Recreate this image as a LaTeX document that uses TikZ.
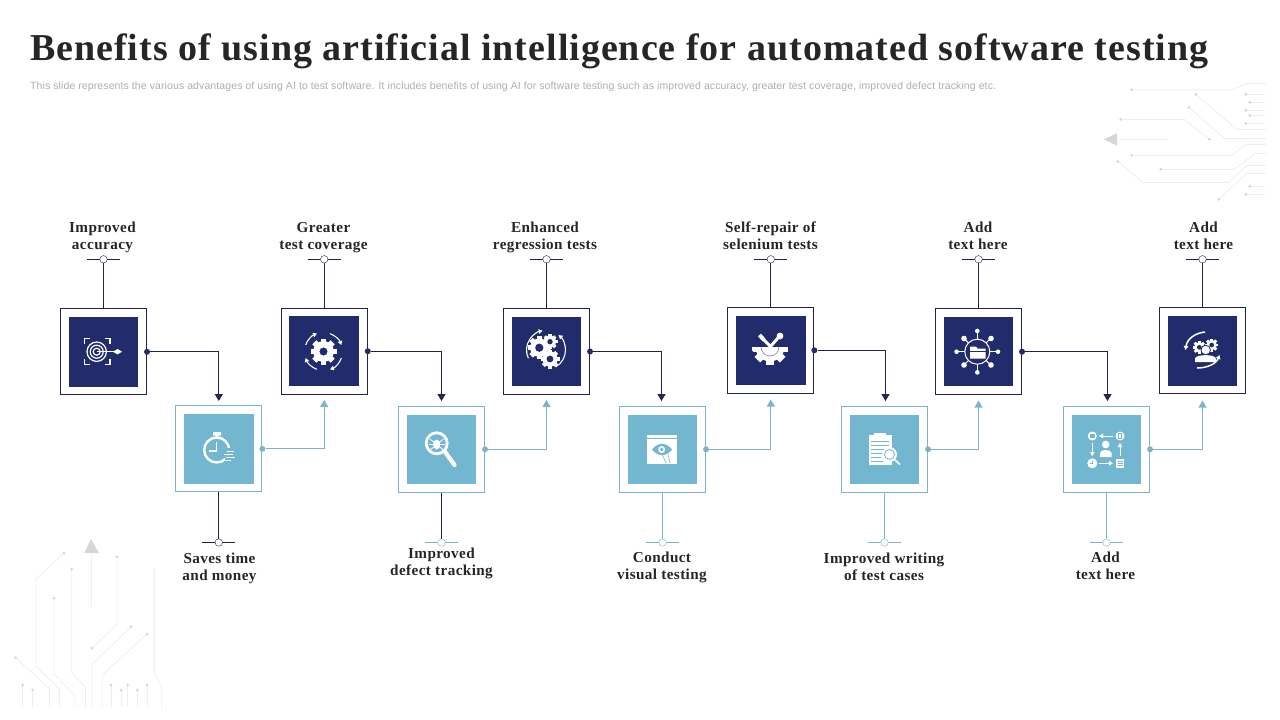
\documentclass[tikz,border=0pt]{standalone}
\usepackage{fontspec}
\setmainfont{Liberation Serif}
\setsansfont{Liberation Sans}
\newfontfamily\titlefont[LetterSpace=2.6]{Liberation Serif}
\newfontfamily\capfont[LetterSpace=2.6]{Liberation Serif}
\newfontfamily\subfont[LetterSpace=1]{Liberation Sans}
\usetikzlibrary{arrows.meta,positioning,calc}

\definecolor{navy}{HTML}{222B6B}
\definecolor{teal}{HTML}{72B7CF}
\definecolor{edgeteal}{HTML}{7FB4C8}
\definecolor{edgedark}{HTML}{20243F}
\definecolor{circuit}{HTML}{EEEEEE}
\definecolor{circuitdot}{HTML}{D6D6D6}

\tikzset{
	outerdark/.style={draw=edgedark, fill=white, line width=1.1pt, minimum size=86pt, inner sep=0pt},
	outerteal/.style={draw=edgeteal, fill=white, line width=1.1pt, minimum size=86pt, inner sep=0pt},
	innerdark/.style={fill=navy, minimum size=69.5pt, inner sep=0pt},
	innerteal/.style={fill=teal, minimum size=69.5pt, inner sep=0pt},
	dotdark/.style={circle, fill=navy, minimum size=6pt, inner sep=0pt},
	dotteal/.style={circle, fill=edgeteal, minimum size=6pt, inner sep=0pt},
	linkdark/.style={draw=edgedark, line width=1.1pt, -{Triangle[width=8pt,length=7pt,fill=navy]}},
	linkteal/.style={draw=edgeteal, line width=1.1pt, -{Triangle[width=8pt,length=7pt,fill=edgeteal]}},
	stemdark/.style={draw=edgedark, line width=1pt},
	stemteal/.style={draw=edgeteal, line width=1pt},
	pindark/.style={circle, draw=edgedark, fill=white, minimum size=7.5pt, inner sep=0pt},
	pinteal/.style={circle, draw=edgeteal, fill=white, minimum size=7.5pt, inner sep=0pt},
	caption/.style={align=center, text=black!85, inner sep=0pt, font=\fontsize{15.2}{17}\capfont\bfseries},
	trace/.style={draw=circuit, line width=.9pt},
	icon/.style={draw=white, line width=1.4pt},
	iconarrow/.style={draw=white, line width=1.1pt, -{Triangle[width=4.5pt,length=4pt]}},
}

% cog wheel: x, y, radius, hole colour
\newcommand{\cogwheel}[4]{
	\fill[white] (#1,#2) circle (0.8*#3);
	\foreach \a in {0,45,...,315}
		\fill[white, shift={(#1,#2)}, rotate=\a] (-0.22*#3,0) rectangle (0.22*#3,#3);
	\fill[#4] (#1,#2) circle (0.36*#3);
}

\begin{document}
\begin{tikzpicture}[x=1pt,y=-1pt]
	\useasboundingbox (0,0) rectangle (1280,720);

	% Title
	\node[anchor=west, inner sep=0pt, text=black!85, font=\fontsize{38}{40}\titlefont\bfseries] (title) at (30,51) {Benefits of using artificial intelligence for automated software testing};
	\node[anchor=west, inner sep=0pt, text=black!32, font=\fontsize{10.5}{12}\subfont] (subtitle) at (30,87) {This slide represents the various advantages of using AI to test software. It includes benefits of using AI for software testing such as improved accuracy, greater test coverage, improved defect tracking etc.};

	% Circuit top right
	\draw[trace] (1131.7,89.7) -- (1233,89.7) -- (1246.7,83.3) -- (1265.7,83.3);
	\draw[trace] (1245.7,94.3) -- (1265,94.3);
	\draw[trace] (1249.7,102.3) -- (1265,102.3);
	\draw[trace] (1245.7,110.3) -- (1265,110.3);
	\draw[trace] (1249.7,115.3) -- (1265,115.3);
	\draw[trace] (1245.7,123.3) -- (1265,123.3);
	\draw[trace] (1195.7,94.3) -- (1236.7,129.3) -- (1265.7,129.3);
	\draw[trace] (1188.7,107.3) -- (1224.3,138.3) -- (1265.7,138.3);
	\draw[trace] (1120.7,119.3) -- (1184.3,119.3) -- (1209.3,139.3);
	\draw[trace] (1120,139.3) -- (1167.7,139.3);
	\draw[trace] (1131.7,155.3) -- (1232.3,155.3) -- (1245.7,144.3) -- (1265.7,144.3);
	\draw[trace] (1160.7,169.3) -- (1234.3,169.3) -- (1255.7,153.3) -- (1265.7,153.3);
	\draw[trace] (1117.7,161.3) -- (1142.7,182.3) -- (1228.3,182.3) -- (1246.7,165.3) -- (1265.7,165.3);
	\draw[trace] (1218.7,199.3) -- (1246.7,173.3) -- (1265.7,173.3);
	\draw[trace] (1249.7,186.3) -- (1265,186.3);
	\draw[trace] (1245.7,194.3) -- (1265,194.3);
	\fill[circuitdot] (1104,139.3) -- (1117,133.3) -- (1117,145.7) -- cycle;
	\fill[circuitdot] (1131.7,89.7) circle (1.5) (1245.7,94.3) circle (1.5) (1249.7,102.3) circle (1.5)
		(1245.7,110.3) circle (1.5) (1249.7,115.3) circle (1.5) (1245.7,123.3) circle (1.5)
		(1195.7,94.3) circle (1.5) (1188.7,107.3) circle (1.5) (1120.7,119.3) circle (1.5)
		(1209.3,139.3) circle (1.5) (1131.7,155.3) circle (1.5) (1160.7,169.3) circle (1.5)
		(1117.7,161.3) circle (1.5) (1218.7,199.3) circle (1.5) (1249.7,186.3) circle (1.5) (1245.7,194.3) circle (1.5);

	% Circuit bottom left
	\draw[trace] (91,555) -- (91,607.3);
	\draw[trace] (64,553) -- (36,579) -- (36,666) -- (59.3,689.3) -- (59.3,706.7);
	\draw[trace] (71.7,569) -- (71.7,672.3) -- (85.3,686.7) -- (85.3,706.7);
	\draw[trace] (54,598) -- (54,674) -- (74.7,695) -- (74.7,706.7);
	\draw[trace] (117,556.7) -- (117,624.3) -- (92,648);
	\draw[trace] (131,626.7) -- (92,664.3) -- (92,706.7);
	\draw[trace] (147,634) -- (102,675.3) -- (102,706.7);
	\draw[trace] (154.3,569) -- (154.3,673.3) -- (161.7,686.7) -- (161.7,710);
	\draw[trace] (15.7,657.7) -- (49.3,688.3) -- (49.3,706.7);
	\draw[trace] (22.7,685) -- (22.7,706.7);
	\draw[trace] (32.7,690) -- (32.7,706.7);
	\draw[trace] (111,685) -- (111,706.7);
	\draw[trace] (121,690) -- (121,706.7);
	\draw[trace] (127.7,685) -- (127.7,706.7);
	\draw[trace] (137.3,690) -- (137.3,706.7);
	\draw[trace] (147,685) -- (147,706.7);
	\fill[circuitdot] (84.3,553) -- (91,539) -- (99,553) -- cycle;
	\fill[circuitdot] (64,553) circle (1.5) (71.7,569) circle (1.5) (54,598) circle (1.5)
		(117,556.7) circle (1.5) (92,648) circle (1.5) (131,626.7) circle (1.5) (147,634) circle (1.5)
		(15.7,657.7) circle (1.5) (22.7,685) circle (1.5) (32.7,690) circle (1.5) (111,685) circle (1.5)
		(121,690) circle (1.5) (127.7,685) circle (1.5) (137.3,690) circle (1.5) (147,685) circle (1.5);

	% Boxes
	\node[outerdark] (b1) at (103.5,351.8) {};
	\node[outerteal] (l1) at (218.8,448.8) {};
	\node[outerdark] (b2) at (324.2,351.2) {};
	\node[outerteal] (l2) at (441.5,449.3) {};
	\node[outerdark] (b3) at (546.5,351.5) {};
	\node[outerteal] (l3) at (662.5,449.3) {};
	\node[outerdark] (b4) at (770.8,350.3) {};
	\node[outerteal] (l4) at (884.5,449.3) {};
	\node[outerdark] (b5) at (978.5,351.7) {};
	\node[outerteal] (l5) at (1106.5,449.3) {};
	\node[outerdark] (b6) at (1202.5,350.8) {};
	\node[innerdark] at (b1) {};
	\node[innerteal] at (l1) {};
	\node[innerdark] at (b2) {};
	\node[innerteal] at (l2) {};
	\node[innerdark] at (b3) {};
	\node[innerteal] at (l3) {};
	\node[innerdark] at (b4) {};
	\node[innerteal] at (l4) {};
	\node[innerdark] at (b5) {};
	\node[innerteal] at (l5) {};
	\node[innerdark] at (b6) {};

	% Links between the boxes
	\node[dotdark] (db1) at (b1.east) {};
	\node[dotteal] (dl1) at (l1.east) {};
	\node[dotdark] (db2) at (b2.east) {};
	\node[dotteal] (dl2) at (l2.east) {};
	\node[dotdark] (db3) at (b3.east) {};
	\node[dotteal] (dl3) at (l3.east) {};
	\node[dotdark] (db4) at (b4.east) {};
	\node[dotteal] (dl4) at (l4.east) {};
	\node[dotdark] (db5) at (b5.east) {};
	\node[dotteal] (dl5) at (l5.east) {};
	\coordinate (e1) at (218.8,401);
	\coordinate (e2) at (324.2,400);
	\coordinate (e3) at (441.5,401);
	\coordinate (e4) at (546.5,400);
	\coordinate (e5) at (661.5,401);
	\coordinate (e6) at (770.8,399.5);
	\coordinate (e7) at (885.5,401);
	\coordinate (e8) at (978.5,400.5);
	\coordinate (e9) at (1107.5,401);
	\coordinate (e10) at (1202.5,400.5);
	\draw[linkdark] (db1) -| (e1);
	\draw[linkteal] (dl1) -| (e2);
	\draw[linkdark] (db2) -| (e3);
	\draw[linkteal] (dl2) -| (e4);
	\draw[linkdark] (db3) -| (e5);
	\draw[linkteal] (dl3) -| (e6);
	\draw[linkdark] (db4) -| (e7);
	\draw[linkteal] (dl4) -| (e8);
	\draw[linkdark] (db5) -| (e9);
	\draw[linkteal] (dl5) -| (e10);

	% Pins above
	\node[pindark] (p1) at (103.5,259.3) {};
	\node[pindark] (p3) at (324.2,259.3) {};
	\node[pindark] (p5) at (546.5,259.3) {};
	\node[pindark] (p7) at (770.8,259.3) {};
	\node[pindark] (p9) at (978.5,259.3) {};
	\node[pindark] (p11) at (1202.5,259.3) {};
	\draw[stemdark] (b1) -- (p1) (p1.west) -- ++(-12.5,0) (p1.east) -- ++(12.5,0);
	\draw[stemdark] (b2) -- (p3) (p3.west) -- ++(-12.5,0) (p3.east) -- ++(12.5,0);
	\draw[stemdark] (b3) -- (p5) (p5.west) -- ++(-12.5,0) (p5.east) -- ++(12.5,0);
	\draw[stemdark] (b4) -- (p7) (p7.west) -- ++(-12.5,0) (p7.east) -- ++(12.5,0);
	\draw[stemdark] (b5) -- (p9) (p9.west) -- ++(-12.5,0) (p9.east) -- ++(12.5,0);
	\draw[stemdark] (b6) -- (p11) (p11.west) -- ++(-12.5,0) (p11.east) -- ++(12.5,0);

	% Pins below
	\node[pindark] (p2) at (218.8,542.5) {};
	\node[pinteal] (p4) at (441.5,542.5) {};
	\node[pinteal] (p6) at (662.5,542.5) {};
	\node[pinteal] (p8) at (884.5,542.5) {};
	\node[pinteal] (p10) at (1106.5,542.5) {};
	\draw[stemdark] (l1) -- (p2) (p2.west) -- ++(-12.5,0) (p2.east) -- ++(12.5,0);
	\draw[stemdark] (l2) -- (p4);
	\draw[stemteal] (p4.west) -- ++(-12.5,0) (p4.east) -- ++(12.5,0);
	\draw[stemteal] (l3) -- (p6) (p6.west) -- ++(-12.5,0) (p6.east) -- ++(12.5,0);
	\draw[stemteal] (l4) -- (p8) (p8.west) -- ++(-12.5,0) (p8.east) -- ++(12.5,0);
	\draw[stemteal] (l5) -- (p10) (p10.west) -- ++(-12.5,0) (p10.east) -- ++(12.5,0);

	% Captions
	\node[caption] (t1) at (102.5,238) {\strut Improved\\\strut accuracy};
	\node[caption] (t2) at (219.5,569) {\strut Saves time\\\strut and money};
	\node[caption] (t3) at (323.5,238) {\strut Greater\\\strut test coverage};
	\node[caption] (t4) at (441.5,564) {\strut Improved\\\strut defect tracking};
	\node[caption] (t5) at (545,238) {\strut Enhanced\\\strut regression tests};
	\node[caption] (t6) at (662,568) {\strut Conduct\\\strut visual testing};
	\node[caption] (t7) at (770.5,238) {\strut Self-repair of\\\strut selenium tests};
	\node[caption] (t8) at (884,569) {\strut Improved writing\\\strut of test cases};
	\node[caption] (t9) at (978,238) {\strut Add\\\strut text here};
	\node[caption] (t10) at (1105.5,568) {\strut Add\\\strut text here};
	\node[caption] (t11) at (1203.5,238) {\strut Add\\\strut text here};

	% Icon target
	\draw[icon, line width=1.2pt] (96.7,351.7) circle (3.5) (96.7,351.7) circle (6.5) (96.7,351.7) circle (9.7);
	\draw[icon, line width=1.7pt] (84.5,344) -- (84.5,338.5) -- (90,338.5) (104.5,338.5) -- (110,338.5) -- (110,344)
		(84.5,359) -- (84.5,364.5) -- (90,364.5) (104.5,364.5) -- (110,364.5) -- (110,359);
	\draw[icon] (96.7,351.7) -- (117,351.7);
	\fill[white] (113,351.7) -- (117.5,349) -- (122,351.7) -- (117.5,354.4) -- cycle;

	% Icon gear with arrows
	\cogwheel{323.5}{351.5}{13}{navy}
	\draw[white, line width=1pt] (323.5,351.5) circle (4.7);
	\draw[iconarrow] (323.5,351.5) ++(-70:19) arc[start angle=-70, end angle=-20, radius=19];
	\draw[iconarrow] (323.5,351.5) ++(20:19) arc[start angle=20, end angle=70, radius=19];
	\draw[iconarrow] (323.5,351.5) ++(110:19) arc[start angle=110, end angle=160, radius=19];
	\draw[iconarrow] (323.5,351.5) ++(200:19) arc[start angle=200, end angle=250, radius=19];

	% Icon stopwatch
	\draw[icon, line width=2.4pt] (216.7,450) circle (12.5);
	\fill[white] (213,432) rectangle (221,435.5) (215.5,435) rectangle (218.5,438);
	\draw[icon, line width=1.2pt] (216.7,442) -- (216.7,451) -- (209,451);
	\fill[teal] (225,448) rectangle (236,463);
	\draw[icon, line width=1.4pt] (227,451.5) -- (234,451.5) (224,454.5) -- (233,454.5) (226,457.5) -- (235,457.5) (222,460.5) -- (231,460.5);

	% Icon magnifier with bug
	\draw[icon, line width=2.8pt] (436.7,443.3) circle (10.5);
	\draw[icon, line width=4.2pt, line cap=round] (445,451.8) -- (454.5,465);
	\fill[white] (436.7,444.5) ellipse (3.5 and 5);
	\draw[icon, line width=.8pt] (430,439) -- (443.5,450) (443.5,439) -- (430,450) (429,444.5) -- (444.5,444.5);

	% Icon gears
	\cogwheel{539.3}{347.7}{11.5}{navy}
	\cogwheel{550}{341.7}{7.5}{navy}
	\cogwheel{550}{359}{9.5}{navy}
	\draw[iconarrow] (546,350) ++(155:19.5) arc[start angle=155, end angle=260, radius=19.5];
	\draw[iconarrow] (546,350) ++(60:19.5) arc[start angle=60, end angle=-50, radius=19.5];

	% Icon eye on window
	\fill[white] (647,435) rectangle (677,463.7);
	\draw[teal, line width=.6pt] (647,438.5) -- (677,438.5);
	\fill[teal] (652,449.5) .. controls (658,442) and (666,442) .. (672,449.5) .. controls (666,457) and (658,457) .. (652,449.5) -- cycle;
	\fill[white] (661.7,449.5) circle (3.5);
	\fill[teal] (661.7,449.5) circle (1.8);
	\draw[teal, line width=.6pt] (662,454) -- (666,463) (668,454) -- (670,463);

	% Icon tools on half gear
	\begin{scope}
		\clip (745,347) rectangle (795,370);
		\cogwheel{770}{347}{18}{white}
	\end{scope}
	\fill[white] (752.5,347) rectangle (788,352);
	\draw[navy!60, line width=.6pt] (761,347) arc[start angle=180, end angle=0, radius=9];
	\draw[icon, line width=3pt] (763,339) -- (771,347) (778,338) -- (770,347);
	\draw[icon, line width=4pt] (759.5,335) -- (764,340);
	\fill[white] (780,336) circle (3.4);

	% Icon clipboard
	\fill[white] (868.5,435) rectangle (891.5,465);
	\fill[white] (874,433) rectangle (886,437);
	\draw[teal, line width=.7pt] (871,441) -- (889,441) (871,445) -- (889,445) (871,449) -- (889,449) (871,453) -- (883,453) (871,457) -- (881,457) (871,461) -- (883,461);
	\fill[white] (889.5,454.5) circle (7.5);
	\draw[teal, line width=.8pt] (889.5,454.5) circle (5);
	\draw[icon, line width=1.6pt] (894.5,459.5) -- (900,464.5);

	% Icon folder hub
	\draw[icon, line width=1pt] (977.3,351.7) circle (12.5);
	\foreach \a in {0,90,180,270}
		\draw[icon, line width=1pt, shift={(977.3,351.7)}, rotate=\a] (12.5,0) -- (19,0);
	\foreach \a in {45,135,225,315}
		\draw[icon, line width=1pt, shift={(977.3,351.7)}, rotate=\a] (12.5,0) -- (19,0);
	\fill[white] (998,351.7) circle (2.3) (956.6,351.7) circle (2.3) (977.3,331) circle (2.3) (977.3,372.4) circle (2.3);
	\fill[white] (964,338.5) circle (2.8) (991,338.5) circle (2.8) (964,365) circle (2.8) (991,365) circle (2.8);
	\fill[white] (970,346.5) -- (976,346.5) -- (977.5,348.5) -- (985.5,348.5) -- (985.5,358.5) -- (970,358.5) -- cycle;
	\draw[navy, line width=.6pt] (970,351) -- (985.5,351);

	% Icon workflow with person
	\fill[white] (1092.3,436) circle (4.5);
	\fill[teal] (1090,434) rectangle (1094.6,438);
	\fill[white] (1120,436) circle (4.5);
	\draw[teal, line width=.6pt] (1118.5,433.5) rectangle (1121.5,438.5);
	\fill[white] (1092.3,463.3) circle (5);
	\draw[teal, line width=.6pt] (1092.3,460.5) -- (1092.3,463.3) -- (1090,463.3);
	\fill[white] (1116,459) rectangle (1124,468);
	\draw[teal, line width=.5pt] (1117.5,461.5) -- (1122.5,461.5) (1117.5,463.5) -- (1122.5,463.5) (1117.5,465.5) -- (1122.5,465.5);
	\fill[white] (1105.7,444.5) circle (3.8);
	\fill[white] (1100,457) -- (1100,453) .. controls (1100,449) and (1111.5,449) .. (1111.5,453) -- (1111.5,457) -- cycle;
	\draw[iconarrow, line width=.7pt] (1113,436) -- (1099,436);
	\draw[iconarrow, line width=.7pt] (1092.3,443) -- (1092.3,456);
	\draw[iconarrow, line width=.7pt] (1099,463.3) -- (1113,463.3);
	\draw[iconarrow, line width=.7pt] (1120,456) -- (1120,443);

	% Icon gears with person
	\cogwheel{1199.3}{347.3}{6.5}{navy}
	\cogwheel{1211.7}{345}{6.5}{navy}
	\fill[navy] (1205.7,350) circle (5.2);
	\fill[white] (1205.7,350) circle (4.2);
	\fill[white] (1195,362) -- (1195,358.5) .. controls (1196,354) and (1215,354) .. (1216,358.5) -- (1216,362) -- cycle;
	\draw[iconarrow, line width=1.5pt] (1205,332) .. controls (1195,333) and (1187,339) .. (1185.5,350);
	\draw[iconarrow, line width=1.5pt] (1197,368) .. controls (1207,368) and (1216,364) .. (1219.5,355);
\end{tikzpicture}
\end{document}
